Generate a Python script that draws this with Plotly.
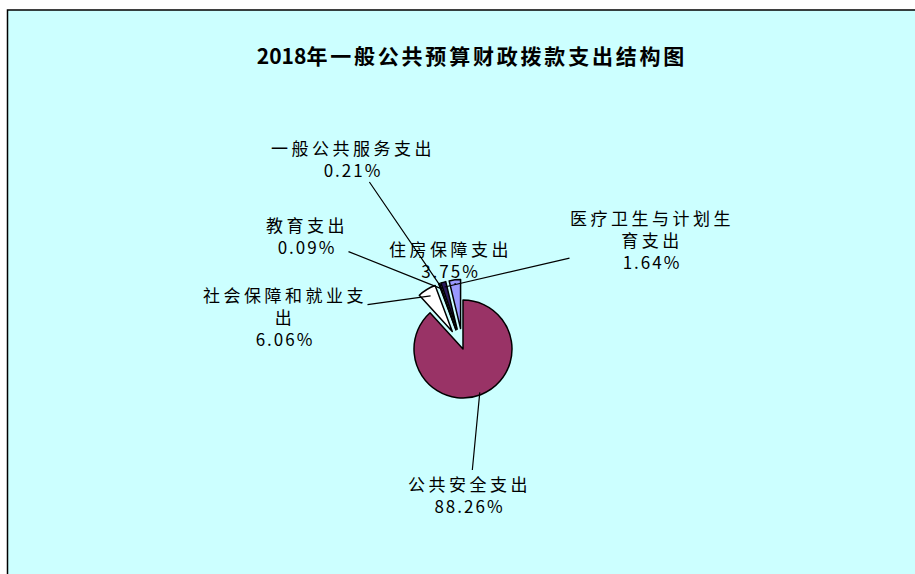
import math
import plotly.graph_objects as go

# ---- data ----
categories = ["公共安全支出", "社会保障和就业支出", "教育支出", "一般公共服务支出",
              "医疗卫生与计划生育支出", "住房保障支出"]
values = [88.26, 6.06, 0.09, 0.21, 1.64, 3.75]
label_names = ["公共安全支出", "社会保障和就业支<br>出", "教育支出", "一般公共服务支出",
               "医疗卫生与计划生<br>育支出", "住房保障支出"]
title_year = "2018"
title_rest = "年一般公共预算财政拨款支出结构图"

# ---- style / layout ----
colors = ["#993366", "#FFFFFF", "#CCFFFF", "#660066", "#2B1A5C", "#9999FF"]
pulls = [0, 0.42, 0.42, 0.42, 0.42, 0.42]
W, H = 915, 574
FONT = "Noto Sans CJK SC"

# target pie centre / radius in pixels
pcx, pcy, pr = 463, 349, 49
half = pr * (1 + max(pulls))
dom_x = [(pcx - half) / W, (pcx + half) / W]
dom_y = [1 - (pcy + half) / H, 1 - (pcy - half) / H]

# label centres (pixels) and how far along the radius the leader ends
label_px = [(470, 494), (285, 316), (307, 235), (353, 158), (652, 239), (450, 259)]
leader_frac = [0.95, 0.85, 0.9, 0.95, 0.9, 0.9]

fig = go.Figure()
fig.add_trace(go.Pie(
    labels=categories, values=values, sort=False, direction="clockwise", rotation=0,
    pull=pulls, textinfo="none", hoverinfo="label+percent",
    marker=dict(colors=colors, line=dict(color="black", width=1.5)),
    domain=dict(x=dom_x, y=dom_y), showlegend=False,
))

# pie geometry (same rules plotly uses)
box_w = W * (dom_x[1] - dom_x[0])
box_h = H * (dom_y[1] - dom_y[0])
r = min(box_w, box_h) / 2 / (1 + max(pulls))
cx = W * (dom_x[0] + dom_x[1]) / 2
cy = H * (1 - (dom_y[0] + dom_y[1]) / 2)
total = sum(values)

annotations = []
cum = 0.0
for name, v, p, (lx, ly), f in zip(label_names, values, pulls, label_px, leader_frac):
    mid = (cum + v / 2) / total * 2 * math.pi
    cum += v
    dx, dy = math.sin(mid), -math.cos(mid)
    tx = cx + (p + f) * r * dx
    ty = cy + (p + f) * r * dy
    text = ('<span style="letter-spacing:3.5px">' + name + '</span><br>'
            '<span style="letter-spacing:2px">' + f"{v:.2f}%" + '</span>')
    annotations.append(dict(
        x=tx / W, y=1 - ty / H, xref="paper", yref="paper",
        ax=lx - tx, ay=ly - ty, axref="pixel", ayref="pixel",
        text=text, showarrow=True, arrowhead=0, arrowwidth=1.2, arrowcolor="black",
        standoff=0, borderpad=0, align="center",
        font=dict(family=FONT, size=17, color="black"),
    ))

fig.update_layout(
    width=W, height=H, autosize=False,
    margin=dict(l=0, r=0, t=0, b=0),
    paper_bgcolor="white", plot_bgcolor="white",
    title=dict(text='<span style="letter-spacing:0px">' + title_year + '</span>'
                    '<span style="letter-spacing:2.8px">' + title_rest + '</span>',
               x=472 / W, xanchor="center", y=1 - 57 / H, yanchor="middle",
               yref="container", font=dict(family=FONT, size=21, color="black", weight="bold")),
    annotations=annotations,
    shapes=[dict(type="rect", xref="paper", yref="paper", x0=7.5 / W, x1=1.05,
                 y0=-0.05, y1=1 - 10 / H, fillcolor="#CCFFFF",
                 line=dict(color="black", width=1.5), layer="below")],
)

fig.write_html("out.html", config={"displayModeBar": False},
               post_script="document.body.style.margin='0';document.body.style.overflow='hidden';")
